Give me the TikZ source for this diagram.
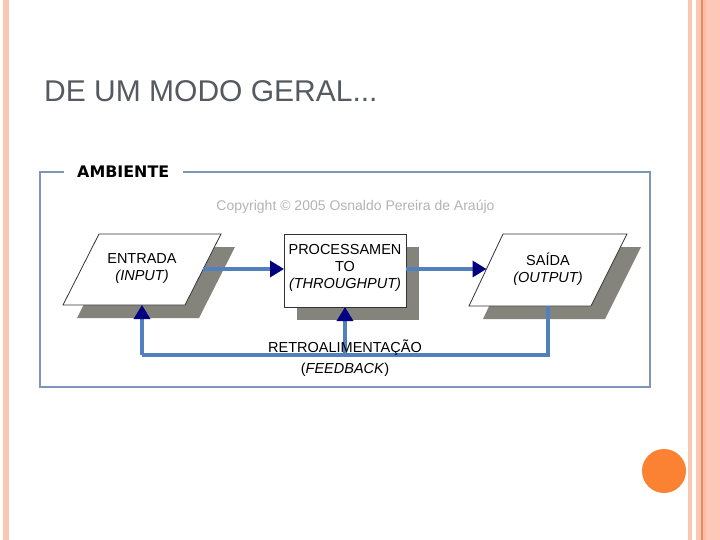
\documentclass[tikz,border=0pt]{standalone}
\usepackage{fontspec}
\setmainfont{Liberation Sans}
\newfontfamily\djv{DejaVu Sans}
\usetikzlibrary{arrows.meta}
\definecolor{salmon}{RGB}{249,199,178}
\definecolor{salmonB}{RGB}{251,190,165}
\definecolor{salmonC}{RGB}{253,200,184}
\definecolor{orline}{RGB}{226,140,100}
\definecolor{titlegray}{RGB}{85,90,96}
\definecolor{framecol}{RGB}{125,150,185}
\definecolor{flowblue}{RGB}{80,128,190}
\definecolor{tipnavy}{RGB}{0,0,128}
\definecolor{shadowgray}{RGB}{132,132,124}
\definecolor{copygray}{RGB}{180,180,180}
\definecolor{dotorange}{RGB}{250,130,50}
\begin{document}
\begin{tikzpicture}[x=1pt,y=-1pt,
  shapeline/.style={draw=black!80,line width=0.8pt,fill=white},
  shadowfill/.style={fill=shadowgray},
  flow/.style={draw=flowblue,line width=3.4pt,-{Triangle[length=14pt,width=16pt,color=tipnavy]}},
  flowplain/.style={draw=flowblue,line width=3.4pt},
  lbl/.style={font=\fontsize{14.5}{17}\selectfont,align=center,inner sep=0pt,text=black}]
\useasboundingbox (0,0) rectangle (720,540);
\fill[white] (0,0) rectangle (720,540);
% side decorations
\fill[salmon] (3,0) rectangle (9,540);
\fill[salmon] (688,0) rectangle (692,540);
\fill[salmon] (696,0) rectangle (701,540);
\fill[orline] (701,0) rectangle (702.5,540);
\fill[salmonB] (702.5,0) rectangle (706,540);
\fill[salmonC] (706,0) rectangle (720,540);
\fill[dotorange] (664,471) circle (22);
% title
\node[anchor=base west,inner sep=0pt,text=titlegray,font=\fontsize{30}{36}\selectfont] (title) at (44,102) {DE UM MODO GERAL...};
% frame
\draw[framecol,line width=1.8pt] (64,172) -- (40,172) -- (40,387) -- (650,387) -- (650,172) -- (183,172);
\node[anchor=west,inner sep=0pt,font=\djv\bfseries\fontsize{15.9}{18}\selectfont] (amb) at (77,171.5) {AMBIENTE};
\node[inner sep=0pt,text=copygray,font=\fontsize{14}{16}\selectfont] (copy) at (355.5,207) {Copyright © 2005 Osnaldo Pereira de Araújo};
% shadows
\fill[shadowgray] (113,247) -- (235,247) -- (199,318) -- (77,318) -- cycle;
\fill[shadowgray] (297,247) rectangle (419,320);
\fill[shadowgray] (517,247) -- (641,247) -- (605,319) -- (483,319) -- cycle;
% shapes
\draw[shapeline] (99,234) -- (221,234) -- (185,305) -- (63,305) -- cycle;
\draw[shapeline] (284,234) rectangle (406,307);
\draw[shapeline] (503,234) -- (627,234) -- (591,306) -- (469,306) -- cycle;
% anchor coordinates
\coordinate (inR) at (202.7,269);
\coordinate (inB) at (142,305);
\coordinate (prL) at (284,269);
\coordinate (prR) at (406,269);
\coordinate (prB) at (345,307);
\coordinate (outL) at (486.5,269);
\coordinate (outB) at (548,306);
\coordinate (fbR) at (548,355);
\coordinate (fbM) at (345,355);
\coordinate (fbL) at (142,355);
% labels
\node[lbl] (entrada) at (142,269) {ENTRADA\\\itshape(INPUT)};
\node[lbl] (proc) at (345,268) {PROCESSAMEN\\TO\\\itshape(THROUGHPUT)};
\node[lbl] (saida) at (548,269) {SAÍDA\\\itshape(OUTPUT)};
% connectors
\draw[flow] (inR) -- (prL);
\draw[flow] (prR) -- (outL);
\draw[flowplain] (outB) -- (fbR) -- (fbL);
\draw[flow] (fbL) -- (inB);
\draw[flow] (fbM) -- (prB);
\node[lbl,anchor=base] (retro) at (345,352) {RETROALIMENTAÇÃO};
\node[lbl,anchor=base] (fb) at (345,373) {(\textit{FEEDBACK})};
\end{tikzpicture}
\end{document}
